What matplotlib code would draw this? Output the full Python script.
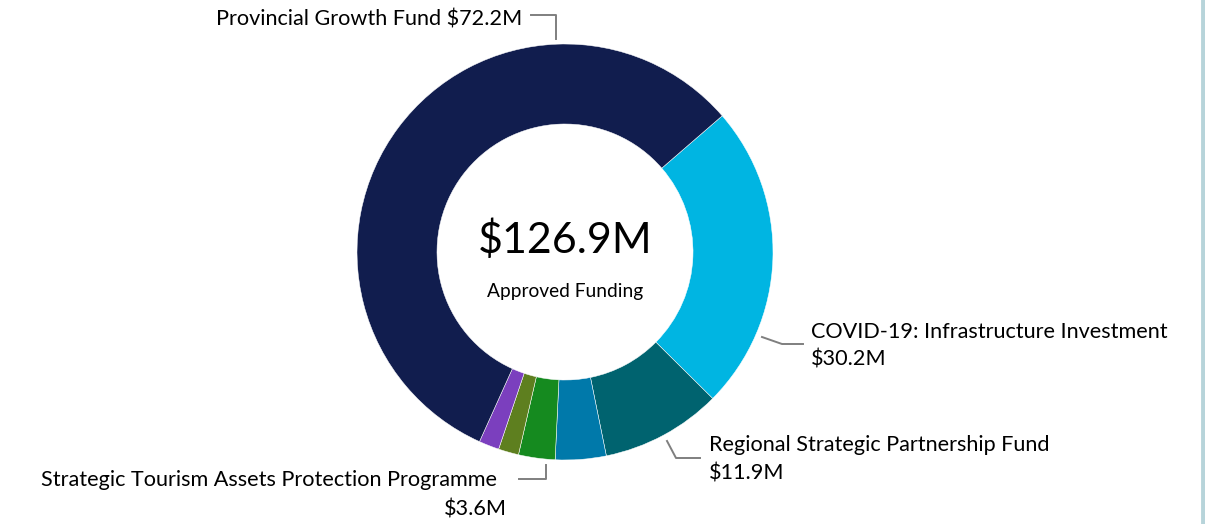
import matplotlib.pyplot as plt
from matplotlib.lines import Line2D

# Approved funding by fund ($M), in clockwise order starting from the top right
funds = ["COVID-19: Infrastructure Investment", "Regional Strategic Partnership Fund",
         "Other fund (blue)", "Strategic Tourism Assets Protection Programme",
         "Other fund (olive)", "Other fund (purple)", "Provincial Growth Fund"]
amounts = [30.2, 11.9, 5.0, 3.6, 2.0, 2.0, 72.2]
colors = ["#00B5E2", "#00636F", "#0079AA", "#158A1F", "#5E7F1F", "#7B3FBE", "#111D4E"]
total_label = "$126.9M"
total_caption = "Approved Funding"

W, H = 1205, 524
plt.rcParams['font.family'] = ['Lato', 'DejaVu Sans']

fig = plt.figure(figsize=(W / 100, H / 100), dpi=100)
ax = fig.add_axes([0, 0, 1, 1])

# donut, in pixel-like data coords (y measured from bottom)
cx, cy, R = 565, H - 252, 208
ax.pie(amounts, colors=colors, startangle=40.9, counterclock=False,
       radius=R, center=(cx, cy),
       wedgeprops=dict(width=80, edgecolor="white", linewidth=0.35))
ax.set_xlim(0, W)
ax.set_ylim(0, H)
ax.set_aspect("equal")
ax.axis("off")

# centre text
ax.text(cx, H - 240, total_label, ha="center", va="center", fontsize=31, color="black")
ax.text(cx, H - 291, total_caption, ha="center", va="center", fontsize=13.8, color="black")

lc = "#7F7F7F"


def leader(xs, ys):
    ax.add_line(Line2D(xs, [H - y for y in ys], color=lc, linewidth=1.4))


fs = 15.6
# Provincial Growth Fund
ax.text(522, H - 20, f"{funds[6]} ${amounts[6]}M", ha="right", va="center", fontsize=fs)
leader([531, 556, 556], [15, 15, 39])

# COVID-19
ax.text(811, H - 332, funds[0], ha="left", va="center", fontsize=fs)
ax.text(811, H - 360, f"${amounts[0]}M", ha="left", va="center", fontsize=fs)
leader([762, 782, 803], [337, 344, 344])

# Regional Strategic Partnership Fund
ax.text(709, H - 445, funds[1], ha="left", va="center", fontsize=fs)
ax.text(709, H - 473, f"${amounts[1]}M", ha="left", va="center", fontsize=fs)
leader([667, 676, 700], [441, 458, 458])

# Strategic Tourism Assets Protection Programme
ax.text(497, H - 480, funds[3], ha="right", va="center", fontsize=fs)
ax.text(507, H - 509, f"${amounts[3]}M", ha="right", va="center", fontsize=fs)
leader([519, 546, 546], [479, 479, 465])

# light frame edge on the right
fig.add_artist(Line2D([1203 / W, 1203 / W], [0, 1], color="#B7D4DA", linewidth=3.5))

fig.savefig("out.png", dpi=100, facecolor="white")
